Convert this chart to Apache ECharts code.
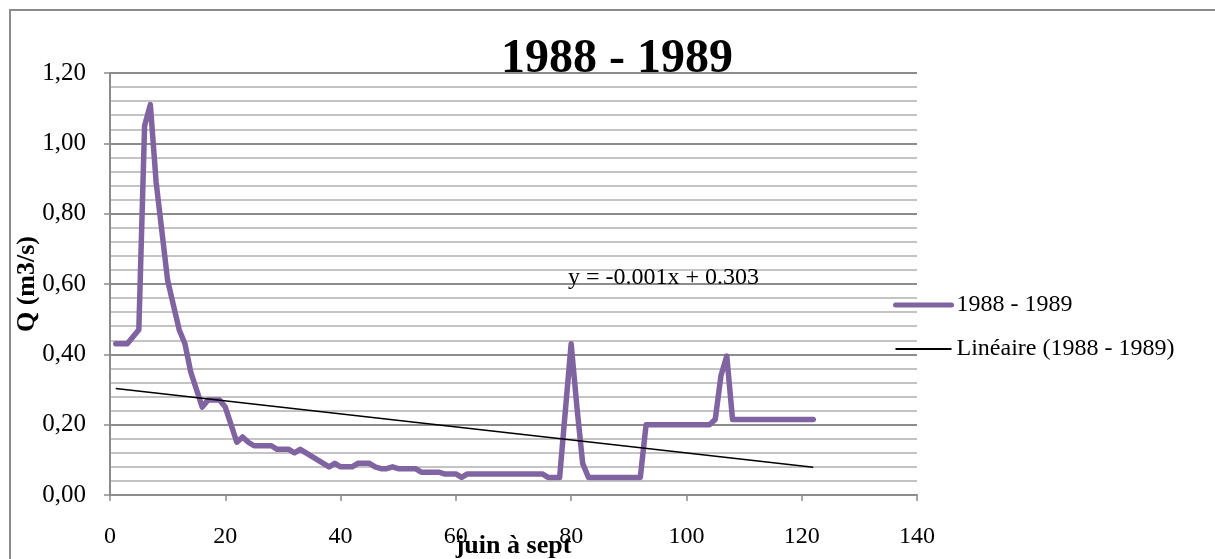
<!DOCTYPE html>
<html>
<head>
<meta charset="utf-8">
<script src="https://cdn.jsdelivr.net/npm/echarts@6/dist/echarts.min.js"></script>
<style>
  html, body { margin: 0; padding: 0; background: #fff; }
  #chart { width: 1215px; height: 559px; }
</style>
</head>
<body>
<div id="chart"></div>
<script>
// débit journalier, juin à septembre (jour 1 = 1er juin)
var flow = [
    0.43, 0.43, 0.43, 0.45, 0.47, 1.05, 1.11, 0.89, 0.75, 0.61,
    0.54, 0.47, 0.43, 0.35, 0.30, 0.25, 0.27, 0.27, 0.27, 0.25,
    0.20, 0.15, 0.165, 0.15, 0.14, 0.14, 0.14, 0.14, 0.13, 0.13,
    0.13, 0.12, 0.13, 0.12, 0.11, 0.10, 0.09, 0.08, 0.09, 0.08,
    0.08, 0.08, 0.09, 0.09, 0.09, 0.08, 0.075, 0.075, 0.08, 0.075,
    0.075, 0.075, 0.075, 0.065, 0.065, 0.065, 0.065, 0.06, 0.06, 0.06,
    0.05, 0.06, 0.06, 0.06, 0.06, 0.06, 0.06, 0.06, 0.06, 0.06,
    0.06, 0.06, 0.06, 0.06, 0.06, 0.05, 0.05, 0.05, 0.24, 0.43,
    0.25, 0.09, 0.05, 0.05, 0.05, 0.05, 0.05, 0.05, 0.05, 0.05,
    0.05, 0.05, 0.20, 0.20, 0.20, 0.20, 0.20, 0.20, 0.20, 0.20,
    0.20, 0.20, 0.20, 0.20, 0.215, 0.34, 0.395, 0.215, 0.215, 0.215,
    0.215, 0.215, 0.215, 0.215, 0.215, 0.215, 0.215, 0.215, 0.215, 0.215,
    0.215, 0.215
];

// droite de tendance (extrémités)
var trendX = [1, 122];
var trendY = [0.303, 0.079];

var yTicks = [0, 0.2, 0.4, 0.6, 0.8, 1.0, 1.2];
var xTicks = [0, 20, 40, 60, 80, 100, 120, 140];

var serieName = '1988 - 1989';
var trendName = 'Linéaire (1988 - 1989)';
var trendLabel = 'y = -0.001x + 0.303';

var FONT = '"Liberation Serif", "DejaVu Serif", serif';

var flowData = flow.map(function(v, i) {
    return [i + 1, v];
});
var trendData = trendX.map(function(x, i) {
    return [x, trendY[i]];
});

var myChart = echarts.init(document.getElementById('chart'));

var option = {
    backgroundColor: '#fff',
    animation: false,
    textStyle: { fontFamily: FONT, color: '#000' },
    title: {
        text: serieName,
        left: 612,
        textAlign: 'center',
        top: 31,
        textStyle: {
            fontFamily: FONT,
            fontSize: 48,
            fontWeight: 'bold',
            color: '#000'
        }
    },
    legend: {
        orient: 'vertical',
        left: 888,
        top: 288,
        itemWidth: 56,
        itemHeight: 14,
        itemGap: 20,
        textStyle: { fontFamily: FONT, fontSize: 24, color: '#000' },
        data: [{
            name: serieName,
            itemStyle: { opacity: 0 },
            lineStyle: { width: 5, color: '#8064a2', cap: 'round' }
        }, {
            name: trendName,
            itemStyle: { opacity: 0 },
            lineStyle: { width: 2, color: '#000' }
        }]
    },
    grid: {
        left: 110,
        right: 298,
        top: 73,
        bottom: 64,
        containLabel: false,
        outerBoundsMode: 'none'
    },
    xAxis: {
        type: 'value',
        min: xTicks[0],
        max: xTicks[xTicks.length - 1],
        interval: 20,
        name: 'juin à sept',
        nameLocation: 'middle',
        nameGap: 38,
        nameMoveOverlap: false,
        nameTextStyle: { fontFamily: FONT, fontSize: 26, fontWeight: 'bold', color: '#000' },
        axisLine: { show: true, lineStyle: { color: '#8c8c8c', width: 2 } },
        axisTick: { show: true, inside: false, length: 6, lineStyle: { color: '#8c8c8c', width: 1.5 } },
        axisLabel: { margin: 30, fontSize: 24, color: '#000', fontFamily: FONT },
        splitLine: { show: false }
    },
    yAxis: {
        type: 'value',
        min: yTicks[0],
        max: yTicks[yTicks.length - 1],
        interval: 0.2,
        name: 'Q (m3/s)',
        nameLocation: 'middle',
        nameRotate: 90,
        nameGap: 70,
        nameMoveOverlap: false,
        nameTextStyle: { fontFamily: FONT, fontSize: 26, fontWeight: 'bold', color: '#000' },
        axisLine: { show: true, lineStyle: { color: '#8c8c8c', width: 2 } },
        axisTick: { show: true, inside: false, length: 6, lineStyle: { color: '#8c8c8c', width: 1.5 } },
        axisLabel: {
            margin: 24,
            fontSize: 25,
            color: '#000',
            fontFamily: FONT,
            formatter: function(v) {
                return v.toFixed(2).replace('.', ',');
            }
        },
        splitLine: { show: true, lineStyle: { color: '#8c8c8c', width: 2 } },
        minorTick: { show: false, splitNumber: 5 },
        minorSplitLine: { show: true, lineStyle: { color: '#c4c4c4', width: 2 } }
    },
    series: [{
        name: serieName,
        type: 'line',
        data: flowData,
        showSymbol: false,
        symbol: 'none',
        color: '#8064a2',
        lineStyle: { color: '#8064a2', width: 5.5, cap: 'round', join: 'round' },
        z: 3
    }, {
        name: trendName,
        type: 'line',
        data: trendData,
        showSymbol: false,
        symbol: 'none',
        color: '#000',
        lineStyle: { color: '#000', width: 1.5 },
        z: 4
    }],
    graphic: [{
        type: 'rect',
        shape: { x: 10, y: 10, width: 1260, height: 620 },
        style: { fill: 'none', stroke: '#8c8c8c', lineWidth: 2 },
        silent: true
    }, {
        type: 'text',
        left: 568,
        top: 266,
        style: {
            text: trendLabel,
            fontFamily: FONT,
            fontSize: 24,
            fill: '#000'
        },
        z: 10
    }]
};

myChart.setOption(option);
</script>
</body>
</html>
